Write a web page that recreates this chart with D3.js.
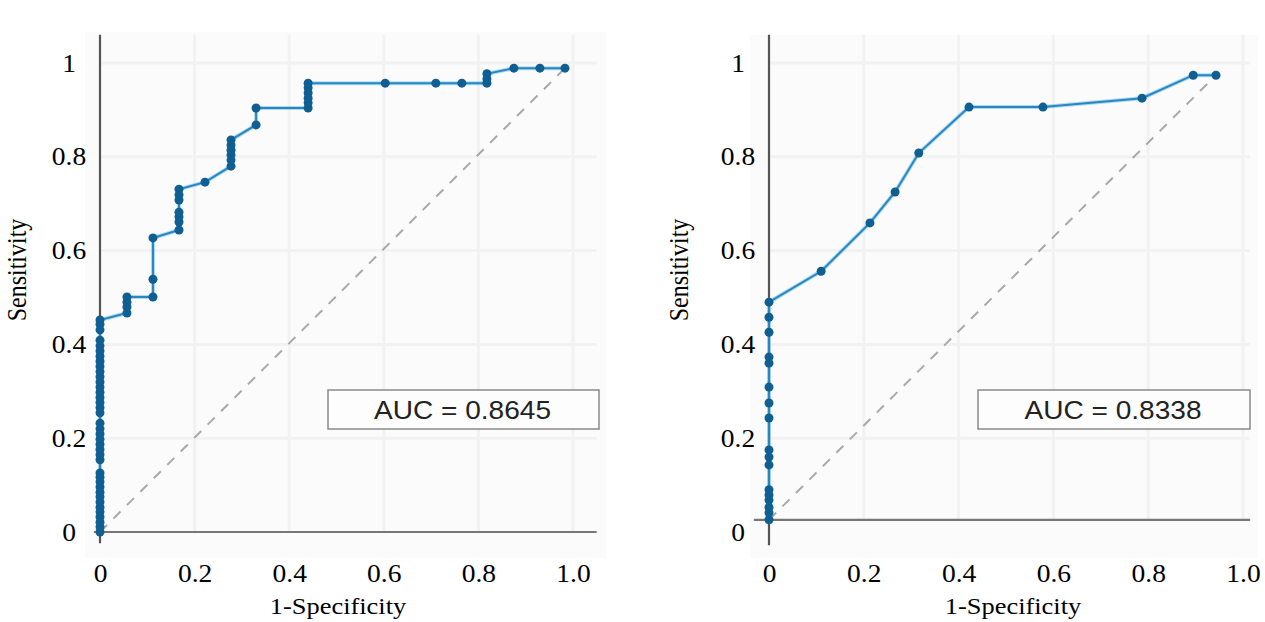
<!DOCTYPE html>
<html>
<head>
<meta charset="utf-8">
<style>
  body { margin: 0; background: #fff; }
  svg { display: block; }
</style>
</head>
<body></body>
<script src="https://d3js.org/d3.v7.min.js"></script>
<script>
  // tick values / labels, shared by both panels
  const xTicks = [0, 0.2, 0.4, 0.6, 0.8, 1.0]
  const xTickLabels = ['0', '0.2', '0.4', '0.6', '0.8', '1.0']
  const yTicks = [0, 0.2, 0.4, 0.6, 0.8, 1]
  const yTickLabels = ['0', '0.2', '0.4', '0.6', '0.8', '1']

  // left panel ROC points (1-specificity, sensitivity)
  const leftFpr = [
    0, 0, 0, 0, 0, 0, 0, 0, 0, 0, 0, 0, 0,
    0, 0, 0, 0, 0, 0, 0, 0,
    0, 0, 0, 0, 0, 0, 0, 0, 0, 0, 0, 0, 0, 0, 0,
    0, 0, 0,
    0.057, 0.057, 0.057, 0.057,
    0.112, 0.112, 0.112,
    0.167, 0.167, 0.167, 0.167, 0.167, 0.167, 0.167,
    0.222,
    0.277, 0.277, 0.277, 0.277, 0.277, 0.277,
    0.330, 0.330,
    0.440, 0.440, 0.440, 0.440, 0.440, 0.440,
    0.603, 0.710, 0.765,
    0.818, 0.818, 0.818,
    0.875, 0.930, 0.983
  ]
  const leftTpr = [
    0, 0.011, 0.021, 0.032, 0.043, 0.053, 0.064, 0.075, 0.085, 0.096, 0.107, 0.117, 0.126,
    0.154, 0.165, 0.176, 0.187, 0.198, 0.209, 0.220, 0.232,
    0.254, 0.265, 0.276, 0.287, 0.298, 0.309, 0.320, 0.331, 0.342, 0.353, 0.364, 0.375, 0.386, 0.397, 0.409,
    0.431, 0.443, 0.452,
    0.467, 0.480, 0.490, 0.501,
    0.501, 0.539, 0.627,
    0.644, 0.661, 0.672, 0.682, 0.708, 0.719, 0.731,
    0.746,
    0.780, 0.793, 0.804, 0.814, 0.825, 0.836,
    0.868, 0.904,
    0.904, 0.915, 0.925, 0.936, 0.947, 0.957,
    0.957, 0.957, 0.957,
    0.957, 0.966, 0.977,
    0.989, 0.989, 0.989
  ]
  const leftDiagonal = [[0, 0], [0.983, 0.989]]
  const leftAuc = 'AUC = 0.8645'

  // right panel ROC points
  const rightFpr = [
    0, 0, 0, 0, 0, 0, 0, 0, 0, 0, 0, 0, 0, 0, 0, 0, 0,
    0.110, 0.213, 0.266, 0.316, 0.422, 0.578, 0.787, 0.895, 0.943
  ]
  const rightTpr = [
    0.026, 0.041, 0.053, 0.068, 0.079, 0.090, 0.143, 0.160, 0.175, 0.243, 0.275, 0.309, 0.360, 0.373, 0.426, 0.458, 0.490,
    0.556, 0.659, 0.725, 0.808, 0.906, 0.906, 0.925, 0.974, 0.974
  ]
  const rightDiagonal = [[0, 0.026], [0.943, 0.974]]
  const rightAuc = 'AUC = 0.8338'

  const width = 1265
  const height = 622
  const serif = '"Liberation Serif", "Times New Roman", serif'
  // the source figure is a little stretched sideways
  const stretch = 1.1

  const svg = d3.select('body')
    .append('svg')
    .attr('width', width)
    .attr('height', height)

  // layout for each panel
  const panels = [
    {
      fpr: leftFpr, tpr: leftTpr, diag: leftDiagonal, auc: leftAuc,
      xRange: [100, 573], yRange: [532, 63],
      bg: [85, 32, 606, 558],
      yAxisExtent: [-0.024, 1.06], xAxisExtent: [-0.013, 1.05], baseline: 0,
      box: [328, 390, 271, 39], titleX: 338, ylabX: 18
    },
    {
      fpr: rightFpr, tpr: rightTpr, diag: rightDiagonal, auc: rightAuc,
      xRange: [769, 1243], yRange: [532, 63],
      bg: [750, 35, 1258, 558],
      yAxisExtent: [-0.028, 1.06], xAxisExtent: [-0.032, 1.015], baseline: 0.026,
      box: [978, 390, 272, 39], titleX: 1013, ylabX: 680
    }
  ]

  panels.forEach(p => {
    const x = d3.scaleLinear().domain([0, 1]).range(p.xRange)
    const y = d3.scaleLinear().domain([0, 1]).range(p.yRange)
    const g = svg.append('g')

    // faint plot background
    g.append('rect')
      .attr('x', p.bg[0]).attr('y', p.bg[1])
      .attr('width', p.bg[2] - p.bg[0]).attr('height', p.bg[3] - p.bg[1])
      .attr('fill', '#fbfbfb')

    // very faint grid
    g.append('g')
      .selectAll('line')
      .data(xTicks.slice(1))
      .enter().append('line')
      .attr('x1', d => x(d)).attr('x2', d => x(d))
      .attr('y1', y(p.yAxisExtent[1])).attr('y2', y(p.baseline))
      .attr('stroke', '#f2f2f2').attr('stroke-width', 3)
    g.append('g')
      .selectAll('line')
      .data(yTicks.slice(1))
      .enter().append('line')
      .attr('x1', x(0)).attr('x2', x(p.xAxisExtent[1]))
      .attr('y1', d => y(d)).attr('y2', d => y(d))
      .attr('stroke', '#f2f2f2').attr('stroke-width', 3)

    // x axis tick labels
    const xAxis = d3.axisBottom(x)
      .tickValues(xTicks)
      .tickFormat((d, i) => xTickLabels[i])
      .tickSize(0)
      .tickPadding(32)
    const xg = g.append('g')
      .attr('transform', `translate(0, ${y(0)})`)
      .call(xAxis)
    xg.select('.domain').remove()
    xg.selectAll('text')
      .attr('font-family', serif)
      .attr('font-size', 25)
      .attr('fill', '#000')
      .attr('transform', `scale(${stretch}, 1)`)

    // y axis tick labels
    const yAxis = d3.axisLeft(y)
      .tickValues(yTicks)
      .tickFormat((d, i) => yTickLabels[i])
      .tickSize(0)
    const yg = g.append('g')
      .attr('transform', `translate(${x(0)}, 0)`)
      .call(yAxis)
    yg.select('.domain').remove()
    yg.selectAll('text')
      .attr('x', 0)
      .attr('text-anchor', 'middle')
      .attr('transform', `translate(-31, 0) scale(${stretch}, 1)`)
      .attr('font-family', serif)
      .attr('font-size', 25)
      .attr('fill', '#000')

    // axis lines
    g.append('line')
      .attr('x1', x(p.xAxisExtent[0])).attr('x2', x(p.xAxisExtent[1]))
      .attr('y1', y(p.baseline)).attr('y2', y(p.baseline))
      .attr('stroke', '#777').attr('stroke-width', 2.2)
    g.append('line')
      .attr('x1', x(0)).attr('x2', x(0))
      .attr('y1', y(p.yAxisExtent[0])).attr('y2', y(p.yAxisExtent[1]))
      .attr('stroke', '#555').attr('stroke-width', 2.2)

    // reference diagonal
    g.append('line')
      .attr('x1', x(p.diag[0][0])).attr('y1', y(p.diag[0][1]))
      .attr('x2', x(p.diag[1][0])).attr('y2', y(p.diag[1][1]))
      .attr('stroke', '#a9a9a9').attr('stroke-width', 2)
      .attr('stroke-dasharray', '10,9')

    // ROC curve
    const pts = p.fpr.map((f, i) => [f, p.tpr[i]])
    const line = d3.line().x(d => x(d[0])).y(d => y(d[1]))
    g.append('path')
      .datum(pts)
      .attr('d', line)
      .attr('fill', 'none')
      .attr('stroke', '#49b4ea')
      .attr('stroke-width', 4)
      .attr('stroke-opacity', 0.45)
    g.append('path')
      .datum(pts)
      .attr('d', line)
      .attr('fill', 'none')
      .attr('stroke', '#2b86c0')
      .attr('stroke-width', 2)
    g.selectAll('circle')
      .data(pts)
      .enter().append('circle')
      .attr('cx', d => x(d[0]))
      .attr('cy', d => y(d[1]))
      .attr('r', 4.5)
      .attr('fill', '#0f5f93')

    // AUC box
    g.append('rect')
      .attr('x', p.box[0]).attr('y', p.box[1])
      .attr('width', p.box[2]).attr('height', p.box[3])
      .attr('fill', '#fdfdfd')
      .attr('stroke', '#8a8a8a').attr('stroke-width', 1.5)
    g.append('text')
      .attr('x', p.box[0] + p.box[2] / 2 - 1)
      .attr('y', p.box[1] + 29)
      .attr('text-anchor', 'middle')
      .attr('font-family', '"Liberation Sans", Arial, sans-serif')
      .attr('font-size', 25)
      .attr('fill', '#222')
      .attr('textLength', 177)
      .attr('lengthAdjust', 'spacingAndGlyphs')
      .text(p.auc)

    // axis titles
    g.append('text')
      .attr('transform', `translate(${p.titleX}, 614) scale(${stretch}, 1)`)
      .attr('text-anchor', 'middle')
      .attr('font-family', serif)
      .attr('font-size', 24)
      .attr('fill', '#000')
      .text('1-Specificity')
    g.append('text')
      .attr('transform', `translate(${p.ylabX + 8}, 270) scale(${stretch}, 1) rotate(-90)`)
      .attr('text-anchor', 'middle')
      .attr('font-family', serif)
      .attr('font-size', 24)
      .attr('fill', '#000')
      .text('Sensitivity')
  })
</script>
</html>
